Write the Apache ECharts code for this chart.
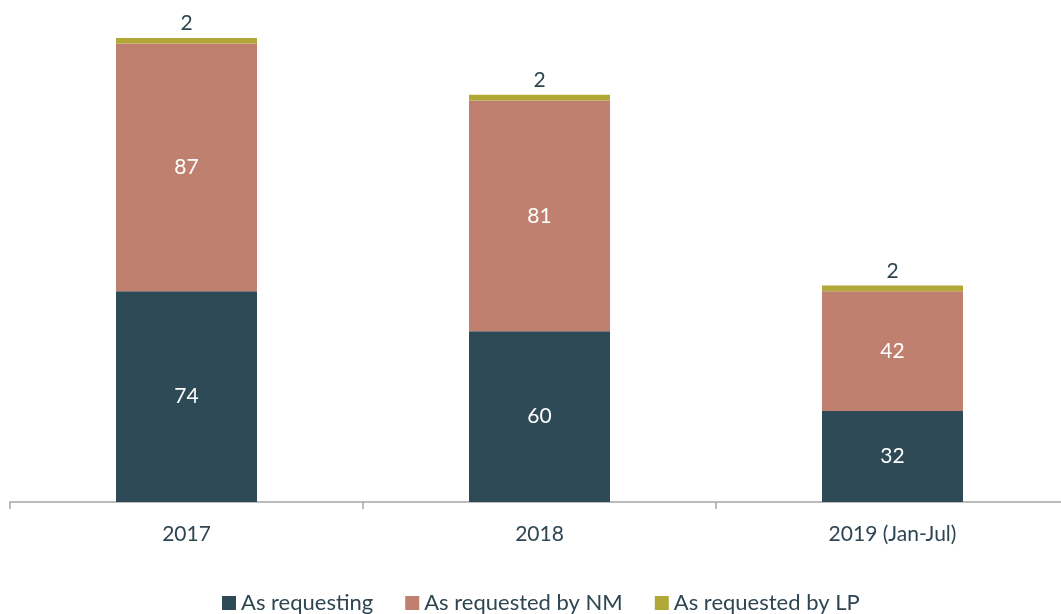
<!DOCTYPE html>
<html><head><meta charset="utf-8">
<script src="https://cdn.jsdelivr.net/npm/echarts@6/dist/echarts.min.js"></script>
<style>html,body{margin:0;padding:0;background:#fff;overflow:hidden}#c{width:1069px;height:614px}</style>
</head><body><div id="c"></div>
<script>
const categories = ['2017', '2018', '2019 (Jan-Jul)'];
const asRequesting = [74, 60, 32];
const requestedByNM = [87, 81, 42];
const requestedByLP = [2, 2, 2];

const txt = '#2E4552';
const font = 'Lato, "Open Sans", sans-serif';
const chart = echarts.init(document.getElementById('c'));
chart.setOption({
  animation: false,
  textStyle: { fontFamily: font },
  grid: { left: 10, right: 0, top: 18, bottom: 112, containLabel: false },
  legend: {
    bottom: -5, left: 217, itemWidth: 14, itemHeight: 14, itemGap: 32,
    icon: 'rect',
    textStyle: { color: txt, fontSize: 22, fontFamily: font },
    data: ['As requesting', 'As requested by NM', 'As requested by LP']
  },
  xAxis: {
    type: 'category', data: categories,
    axisLine: { lineStyle: { color: '#A6A6A6', width: 1.5 } },
    axisTick: { show: true, length: 7, lineStyle: { color: '#A6A6A6', width: 1.5 } },
    axisLabel: { color: txt, fontSize: 21, margin: 22, fontFamily: font }
  },
  yAxis: { type: 'value', min: 0, max: 170, show: false, splitLine: { show: false } },
  series: [
    { name: 'As requesting', type: 'bar', stack: 's', barWidth: 141, data: asRequesting,
      itemStyle: { color: '#2D4A56' },
      label: { show: true, position: 'inside', color: '#fff', fontSize: 21, fontFamily: font } },
    { name: 'As requested by NM', type: 'bar', stack: 's', data: requestedByNM,
      itemStyle: { color: '#C08070' },
      label: { show: true, position: 'inside', color: '#fff', fontSize: 21, fontFamily: font } },
    { name: 'As requested by LP', type: 'bar', stack: 's', data: requestedByLP,
      itemStyle: { color: '#B2A838' },
      label: { show: true, position: 'top', distance: 4, color: txt, fontSize: 21, fontFamily: font } }
  ]
});
</script></body></html>
